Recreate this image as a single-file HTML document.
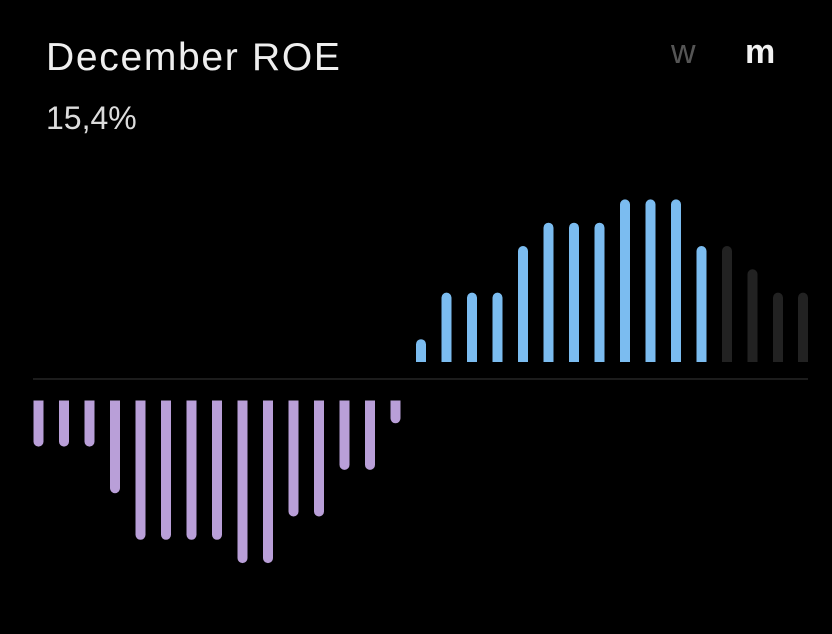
<!DOCTYPE html>
<html>
<head>
<meta charset="utf-8">
<style>
  html,body{margin:0;padding:0;background:#000;}
  body{width:832px;height:634px;overflow:hidden;position:relative;font-family:"Liberation Sans","DejaVu Sans",sans-serif;}
  .title{position:absolute;left:46px;top:34px;font-size:39px;line-height:48px;color:#efefef;letter-spacing:1.7px;white-space:nowrap;}
  .val{position:absolute;left:46px;top:100px;font-size:32px;line-height:36px;color:#dcdcdc;white-space:nowrap;}
  .w{position:absolute;left:671px;top:32px;font-size:34px;line-height:40px;color:#555;}
  .m{position:absolute;left:745px;top:32px;font-size:34px;line-height:40px;color:#f2f2f2;font-weight:bold;}
  svg{position:absolute;left:0;top:0;}
</style>
</head>
<body>
<div class="title">December ROE</div>
<div class="val">15,4%</div>
<div class="w">w</div>
<div class="m">m</div>
<svg width="832" height="634" viewBox="0 0 832 634" xmlns="http://www.w3.org/2000/svg">
  <line x1="33" y1="379" x2="808" y2="379" stroke="#262626" stroke-width="1.5"/>
  <!-- negative bars (purple) -->
  <path fill="#b99fd8" d="
    M33.5 400.5 h10 v41.1 a5 5 0 0 1 -10 0 z
    M59 400.5 h10 v41.1 a5 5 0 0 1 -10 0 z
    M84.5 400.5 h10 v41.1 a5 5 0 0 1 -10 0 z
    M110 400.5 h10 v87.7 a5 5 0 0 1 -10 0 z
    M135.5 400.5 h10 v134.3 a5 5 0 0 1 -10 0 z
    M161 400.5 h10 v134.3 a5 5 0 0 1 -10 0 z
    M186.5 400.5 h10 v134.3 a5 5 0 0 1 -10 0 z
    M212 400.5 h10 v134.3 a5 5 0 0 1 -10 0 z
    M237.5 400.5 h10 v157.6 a5 5 0 0 1 -10 0 z
    M263 400.5 h10 v157.6 a5 5 0 0 1 -10 0 z
    M288.5 400.5 h10 v111 a5 5 0 0 1 -10 0 z
    M314 400.5 h10 v111 a5 5 0 0 1 -10 0 z
    M339.5 400.5 h10 v64.4 a5 5 0 0 1 -10 0 z
    M365 400.5 h10 v64.4 a5 5 0 0 1 -10 0 z
    M390.5 400.5 h10 v17.8 a5 5 0 0 1 -10 0 z
  "/>
  <!-- positive bars (blue) -->
  <path fill="#7bbcf0" d="
    M416 362 v-17.8 a5 5 0 0 1 10 0 v17.8 z
    M441.5 362 v-64.4 a5 5 0 0 1 10 0 v64.4 z
    M467 362 v-64.4 a5 5 0 0 1 10 0 v64.4 z
    M492.5 362 v-64.4 a5 5 0 0 1 10 0 v64.4 z
    M518 362 v-111 a5 5 0 0 1 10 0 v111 z
    M543.5 362 v-134.3 a5 5 0 0 1 10 0 v134.3 z
    M569 362 v-134.3 a5 5 0 0 1 10 0 v134.3 z
    M594.5 362 v-134.3 a5 5 0 0 1 10 0 v134.3 z
    M620 362 v-157.6 a5 5 0 0 1 10 0 v157.6 z
    M645.5 362 v-157.6 a5 5 0 0 1 10 0 v157.6 z
    M671 362 v-157.6 a5 5 0 0 1 10 0 v157.6 z
    M696.5 362 v-111 a5 5 0 0 1 10 0 v111 z
  "/>
  <!-- future bars (dark) -->
  <path fill="#222222" d="
    M722 362 v-111 a5 5 0 0 1 10 0 v111 z
    M747.5 362 v-87.7 a5 5 0 0 1 10 0 v87.7 z
    M773 362 v-64.4 a5 5 0 0 1 10 0 v64.4 z
    M798 362 v-64.4 a5 5 0 0 1 10 0 v64.4 z
  "/>
</svg>
</body>
</html>
